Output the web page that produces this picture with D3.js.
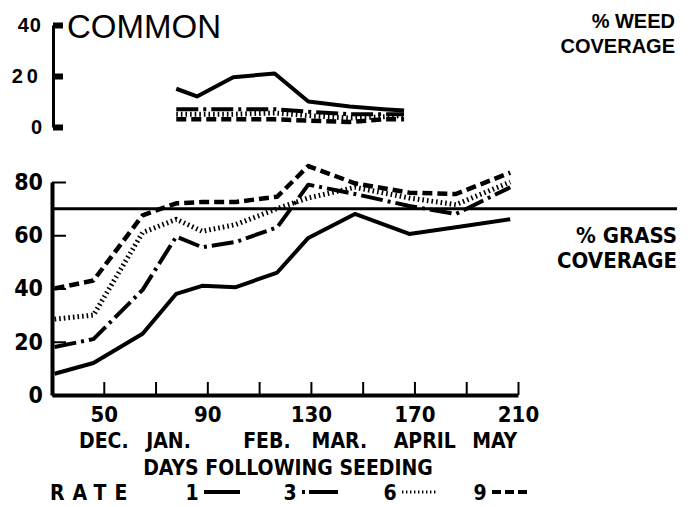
<!DOCTYPE html>
<html>
<head>
<meta charset="utf-8">
<script src="https://cdn.jsdelivr.net/npm/d3@7"></script>
<style>
  body { margin: 0; background: #fff; }
  .lettering { font-family: "DejaVu Sans Condensed", "DejaVu Sans", sans-serif; font-weight: bold; }
</style>
</head>
<body>
<svg id="chart" width="692" height="507"></svg>
<script>
// grass coverage (%) by days following seeding
var days = [31, 46, 65, 78, 88, 101, 117, 129, 147, 168, 186, 207];
var grass1 = [8, 12, 23, 38, 41, 40.5, 46, 59, 68, 60.5, 63, 66];
var grass3 = [18, 21, 39.5, 59.5, 55.5, 57.5, 63, 79, 75.5, 71, 68, 78];
var grass6 = [28.5, 30, 61, 66, 61.5, 64, 70, 74, 78, 74, 71.5, 80];
var grass9 = [40, 43, 67.5, 72, 72.5, 72.5, 74.5, 86, 79.5, 76, 75.5, 83.5];

// weed coverage (%)
var weedDays = [78, 86, 100, 116, 129, 145, 158, 166];
var weed1 = [15, 12, 19.5, 21, 10, 8, 7, 6.5];
var weed3 = [7, 7, 7, 7, 6, 5, 5, 5];
var weed6 = [5, 5, 5, 5.5, 4.5, 3.5, 4, 4.5];
var weed9 = [3, 3, 3, 3, 2.5, 2, 3, 3];

var rates = ["1", "3", "6", "9"];
var xTicks = [50, 70, 90, 110, 130, 150, 170, 190, 210];
var xLabels = [50, 90, 130, 170, 210];
var grassTicks = [0, 20, 40, 60, 80];
var weedTicks = [0, 20, 40];
var months = ["DEC.", "JAN.", "FEB.", "MAR.", "APRIL", "MAY"];
var monthDays = [50, 75, 113, 141, 174, 201];
var refLevel = 70;

var svg = d3.select("#chart");

// line look for each rate
function dash(r) {
  return {"1": null, "3": "22,5,3,5", "6": "1.6,3", "9": "10,5"}[r];
}
function width(r) {
  return {"1": 4, "3": 4, "6": 5, "9": 4.5}[r];
}

var x = d3.scaleLinear().domain([30, 210]).range([52, 518]);
var y = d3.scaleLinear().domain([0, 80]).range([395, 182]);
var yw = d3.scaleLinear().domain([0, 40]).range([127, 25]);

// ---- weed panel ----
var weedAxis = svg.append("g")
    .attr("transform", "translate(53,0)")
    .call(d3.axisLeft(yw).tickValues(weedTicks).tickSize(-10).tickSizeOuter(0).tickPadding(11));
weedAxis.select(".domain").attr("stroke-width", 3);
weedAxis.selectAll(".tick line").attr("stroke-width", 6);
weedAxis.selectAll("text")
    .attr("font-family", "Liberation Sans, Arial, sans-serif")
    .attr("font-weight", "bold")
    .attr("font-size", 20)
    .attr("letter-spacing", function(d) { return d == 20 ? 4 : d == 40 ? 1 : 0; })
    .attr("fill", "#000");

svg.append("text")
    .attr("x", 67).attr("y", 38)
    .attr("font-family", "Liberation Sans, Arial, sans-serif")
    .attr("font-size", 33)
    .text("COMMON");

svg.append("text")
    .attr("x", 675).attr("y", 28)
    .attr("text-anchor", "end")
    .attr("font-family", "Liberation Sans, Arial, sans-serif")
    .attr("font-weight", "bold")
    .attr("font-size", 20)
    .text("% WEED");
svg.append("text")
    .attr("x", 675).attr("y", 53)
    .attr("text-anchor", "end")
    .attr("font-family", "Liberation Sans, Arial, sans-serif")
    .attr("font-weight", "bold")
    .attr("font-size", 20)
    .text("COVERAGE");

var weedLine = d3.line()
    .x(function(d, i) { return x(weedDays[i]); })
    .y(function(d) { return yw(d); });

[weed9, weed6, weed3, weed1].forEach(function(s, k) {
  var r = rates[3 - k];
  svg.append("path")
      .attr("d", weedLine(s))
      .attr("fill", "none")
      .attr("stroke", "#000")
      .attr("stroke-width", width(r))
      .attr("stroke-dasharray", dash(r))
      .attr("stroke-linejoin", "round");
});

// ---- grass panel ----
svg.append("line")
    .attr("x1", 52).attr("x2", 677)
    .attr("y1", y(refLevel)).attr("y2", y(refLevel))
    .attr("stroke", "#000").attr("stroke-width", 3);

var xAxis = svg.append("g")
    .attr("class", "lettering")
    .attr("transform", "translate(0,395)")
    .call(d3.axisBottom(x).tickValues(xTicks).tickSize(-13).tickSizeOuter(0).tickPadding(11)
      .tickFormat(function(d) { return xLabels.indexOf(d) >= 0 ? d : ""; }));
xAxis.select(".domain").attr("stroke-width", 4);
xAxis.selectAll(".tick line").attr("stroke-width", 2);
xAxis.selectAll("text")
    .attr("font-family", null)
    .attr("font-size", 22)
    .attr("fill", "#000");

var yAxis = svg.append("g")
    .attr("class", "lettering")
    .attr("transform", "translate(52,0)")
    .call(d3.axisLeft(y).tickValues(grassTicks).tickSize(-14).tickSizeOuter(0).tickPadding(9));
yAxis.select(".domain").attr("stroke-width", 4);
yAxis.selectAll(".tick line").attr("stroke-width", 2);
yAxis.selectAll("text")
    .attr("font-family", null)
    .attr("font-size", 23)
    .attr("fill", "#000");

var grassLine = d3.line()
    .x(function(d, i) { return x(days[i]); })
    .y(function(d) { return y(d); });

[grass1, grass3, grass6, grass9].forEach(function(s, k) {
  var r = rates[k];
  svg.append("path")
      .attr("d", grassLine(s))
      .attr("fill", "none")
      .attr("stroke", "#000")
      .attr("stroke-width", width(r))
      .attr("stroke-dasharray", dash(r))
      .attr("stroke-linejoin", "round");
});

svg.append("text").attr("class", "lettering")
    .attr("x", 677).attr("y", 243).attr("text-anchor", "end")
    .attr("font-size", 22).text("% GRASS");
svg.append("text").attr("class", "lettering")
    .attr("x", 677).attr("y", 268).attr("text-anchor", "end")
    .attr("font-size", 22).text("COVERAGE");

// month names and axis title
svg.append("g").attr("class", "lettering")
  .selectAll("text")
  .data(months)
  .enter().append("text")
    .attr("x", function(d, i) { return x(monthDays[i]); })
    .attr("y", 448)
    .attr("text-anchor", "middle")
    .attr("font-size", 21)
    .text(function(d) { return d; });

svg.append("text").attr("class", "lettering")
    .attr("x", 288).attr("y", 475).attr("text-anchor", "middle")
    .attr("font-size", 21)
    .text("DAYS FOLLOWING SEEDING");

// legend
svg.append("text").attr("class", "lettering")
    .attr("x", 50).attr("y", 500)
    .attr("font-size", 21).attr("letter-spacing", 8)
    .text("RATE");

var legX = [192, 290, 390, 480];
var leg = svg.append("g").attr("class", "legend")
  .selectAll("g")
  .data(rates)
  .enter().append("g")
    .attr("transform", function(d, i) { return "translate(" + legX[i] + ",0)"; });
leg.append("text").attr("class", "lettering")
    .attr("y", 500).attr("text-anchor", "middle")
    .attr("font-size", 21)
    .text(function(d) { return d; });
leg.append("line")
    .attr("x1", 12).attr("x2", 48)
    .attr("y1", 492).attr("y2", 492)
    .attr("stroke", "#000")
    .attr("stroke-width", function(d) { return d == "6" ? 3 : 4; })
    .attr("stroke-dasharray", function(d) { return {"1": null, "3": "3,4,40", "6": "1.4,2.6", "9": "9,4"}[d]; });
</script>
</body>
</html>
